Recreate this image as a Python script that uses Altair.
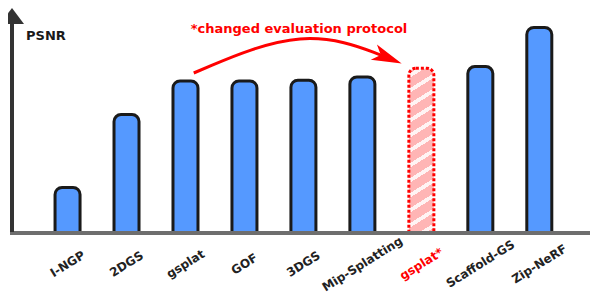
import altair as alt
import pandas as pd
import numpy as np

# ---- data ----
methods = ["I-NGP", "2DGS", "gsplat", "GOF", "3DGS", "Mip-Splatting", "gsplat*", "Scaffold-GS", "Zip-NeRF"]
psnr = [25.57, 26.48, 26.90, 26.90, 26.91, 26.95, 27.06, 27.08, 27.57]
highlight = "gsplat*"

# annotation arrow anchor points (category-index units, PSNR units)
arrow_idx = [2.14, 4.02, 5.43]
arrow_val = [27.00, 27.59, 27.19]

title_text = "*changed evaluation protocol"
ylabel_text = "PSNR"

# ---- layout constants ----
W, H = 582, 289
BASE = 25.0
X_DOM = [-0.925, 8.775]
Y_DOM = [24.2, 27.8125]
PX_PER_UNIT = H / (Y_DOM[1] - Y_DOM[0])
BAR_W = 25

df = pd.DataFrame({"method": methods, "psnr": psnr, "idx": list(range(len(methods)))})
df["base"] = BASE

xs = alt.Scale(domain=X_DOM, nice=False, zero=False)
ys = alt.Scale(domain=Y_DOM, nice=False, zero=False)
X = alt.X("idx:Q", scale=xs, axis=None)
Y = alt.Y("psnr:Q", scale=ys, axis=None)

normal = df[df.method != highlight]
special = df[df.method == highlight]

bars = alt.Chart(normal).mark_bar(
    width=BAR_W, fill="#5599ff", stroke="#1a1a1a", strokeWidth=3,
    cornerRadiusTopLeft=7, cornerRadiusTopRight=7,
).encode(x=X, y=Y, y2="base:Q")

# hatched fill via hard-stop linear gradient
h = (float(special.psnr.iloc[0]) - BASE) * PX_PER_UNIT
a = np.tan(np.radians(32)) * BAR_W / h
q = (1 + a) / (1 + a * a)
p = a * q
period = q * (15.0 / h) / (p * p + q * q)
stops = []
t = 0.0
pink, white = "#ffb5b5", "#fff4f4"
while t < 1.0:
    w0 = t + 0.35 * period
    w1 = t + 0.65 * period
    stops += [alt.GradientStop(color=pink, offset=min(t, 1.0)),
              alt.GradientStop(color=pink, offset=min(w0, 1.0)),
              alt.GradientStop(color=white, offset=min(w0, 1.0)),
              alt.GradientStop(color=white, offset=min(w1, 1.0)),
              alt.GradientStop(color=pink, offset=min(w1, 1.0))]
    t += period
grad = alt.LinearGradient(gradient="linear", stops=stops, x1=1, y1=1, x2=1 - p, y2=1 - q)

hbar = alt.Chart(special).mark_bar(
    width=BAR_W, fill=grad, stroke="#ff0000", strokeWidth=3, strokeDash=[3, 2],
    cornerRadiusTopLeft=7, cornerRadiusTopRight=7,
).encode(x=X, y=Y, y2="base:Q")

labels = alt.Chart(df).mark_text(
    angle=328, align="center", baseline="middle",
    font="DejaVu Sans", fontWeight="bold", fontSize=12,
).encode(
    x=X, y=alt.value(256),
    text="method:N",
    color=alt.condition(alt.datum.method == highlight, alt.value("#ff0000"), alt.value("#222222")),
)

one = pd.DataFrame({"k": [0]})

yline = alt.Chart(one).mark_rule(color="#333333", strokeWidth=4).encode(
    x=alt.value(4), y=alt.value(12), y2=alt.value(224))
yhead = alt.Chart(one).mark_point(
    shape="M0,-0.667L1,0.667L-1,0.667Z", size=576, filled=True, color="#333333",
    opacity=1, strokeWidth=0,
).encode(x=alt.value(4), y=alt.value(8))
xline = alt.Chart(one).mark_rule(color="#6e6e6e", strokeWidth=4).encode(
    x=alt.value(2), x2=alt.value(W), y=alt.value(225))

adf = pd.DataFrame({"idx": arrow_idx, "psnr": arrow_val})
aline = alt.Chart(adf).mark_line(color="#ff0000", strokeWidth=3, interpolate="basis").encode(
    x=X, y=Y, order="idx:Q")
ahead = alt.Chart(adf.tail(1)).mark_point(
    shape="M1,0L-1,-0.55L-0.5,0L-1,0.55Z", size=900, filled=True, color="#ff0000",
    opacity=1, strokeWidth=0, angle=22,
).encode(x=X, y=Y)

title = alt.Chart(one).mark_text(
    text=title_text, color="#ff0000", font="DejaVu Sans", fontWeight="bold", fontSize=13,
    align="center", baseline="alphabetic",
).encode(x=alt.value(291), y=alt.value(25))
ylab = alt.Chart(one).mark_text(
    text=ylabel_text, color="#1a1a1a", font="DejaVu Sans", fontWeight="bold", fontSize=13,
    align="left", baseline="alphabetic",
).encode(x=alt.value(18), y=alt.value(31.5))

chart = alt.layer(bars, hbar, xline, yline, yhead, aline, ahead, title, ylab, labels).properties(
    width=W, height=H, padding=0, autosize=alt.AutoSizeParams(type="none"),
).configure_view(stroke=None)

chart.save("out.html", embed_options={"renderer": "svg", "actions": False})
